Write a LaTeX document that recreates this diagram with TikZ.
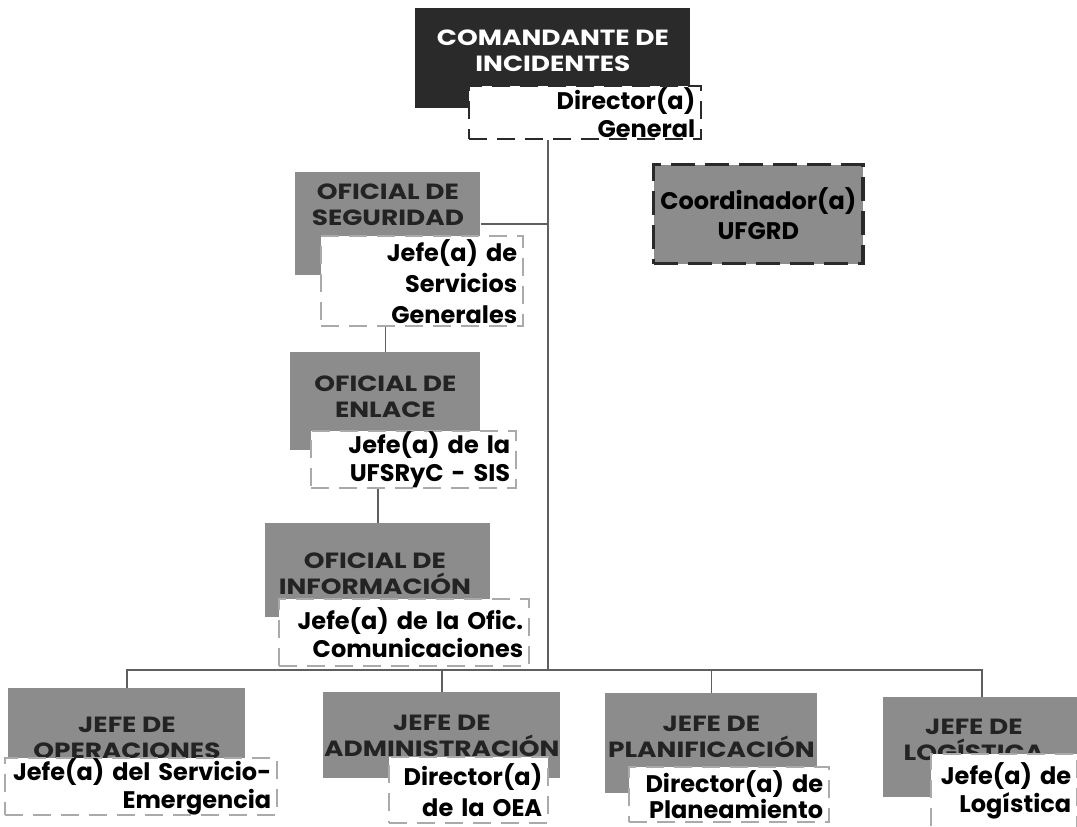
\documentclass[tikz,border=0pt]{standalone}
\usepackage{fontspec}
\setmainfont{Poppins}
\newfontfamily\titlefont[FakeStretch=1.2]{Poppins}
\usetikzlibrary{positioning, calc}

\definecolor{boxgray}{RGB}{140,140,140}
\definecolor{boxdark}{RGB}{42,42,42}
\definecolor{titletext}{RGB}{35,35,35}
\definecolor{linegray}{RGB}{95,95,95}
\definecolor{dashgray}{RGB}{170,170,170}

\begin{document}
\begin{tikzpicture}[
    x=0.5pt, y=-0.5pt,
    gbox/.style={rectangle, fill=boxgray, anchor=north west, inner sep=0pt},
    gtxt/.style={align=center, inner sep=0pt, text=titletext,
                 font=\titlefont\bfseries\fontsize{11}{13}\selectfont},
    wbox/.style={rectangle, fill=white, draw=dashgray, line width=1.2pt,
                 dash pattern=on 9pt off 5pt, anchor=north west, align=right,
                 inner xsep=3pt, inner ysep=0pt,
                 font=\bfseries\fontsize{12}{14}\selectfont},
    conn/.style={draw=linegray, line width=0.7pt}
  ]

  \path[use as bounding box, fill=white] (0,0) rectangle (1077,826);

  % top
  \node[gbox, fill=boxdark, minimum width=137.5pt, minimum height=50pt] (cmd) at (415,8) {};
  \node[gtxt, text=white] (cmdT) at ($(cmd.north)+(0,43)$) {COMANDANTE DE\\INCIDENTES};
  \node[wbox, draw=boxdark, text width=110pt, minimum height=26.5pt] (cmdW) at (468,85) {Director(a)\\General};

  \node[rectangle, fill=boxgray, draw=boxdark, line width=1.6pt, dash pattern=on 12pt off 5pt,
        anchor=north west, minimum width=104pt, minimum height=49.5pt, align=center,
        font=\bfseries\fontsize{12}{15}\selectfont] (ufg) at (652,163) {Coordinador(a)\\UFGRD};

  % officials
  \node[gbox, minimum width=92.5pt, minimum height=51.5pt] (seg) at (295,172) {};
  \node[gtxt] (segT) at ($(seg.north)+(0,33)$) {OFICIAL DE\\SEGURIDAD};
  \node[wbox, text width=95pt, minimum height=45pt, font=\bfseries\fontsize{12}{15.5}\selectfont] (segW) at (320,235) {Jefe(a) de\\Servicios\\Generales};

  \node[gbox, minimum width=95pt, minimum height=49pt] (enl) at (290,352) {};
  \node[gtxt] (enlT) at ($(enl.north)+(0,45)$) {OFICIAL DE\\ENLACE};
  \node[wbox, text width=96.5pt, minimum height=28.5pt] (enlW) at (310,430) {Jefe(a) de la\\UFSRyC - SIS};

  \node[gbox, minimum width=112.5pt, minimum height=47pt] (inf) at (265,523) {};
  \node[gtxt] (infT) at ($(inf.north)+(-3,51)$) {OFICIAL DE\\INFORMACIÓN};
  \node[wbox, text width=119pt, minimum height=33.5pt] (infW) at (278,598) {Jefe(a) de la Ofic.\\Comunicaciones};

  % section chiefs
  \node[gbox, minimum width=118.5pt, minimum height=38.5pt] (ope) at (8,688) {};
  \node[gtxt] (opeT) at ($(ope.north)+(0,50)$) {JEFE DE\\OPERACIONES};
  \node[wbox, text width=130pt, minimum height=25.5pt] (opeW) at (4,757) {Jefe(a) del Servicio-\\Emergencia};

  \node[gbox, minimum width=118.5pt, minimum height=43pt] (adm) at (323,692) {};
  \node[gtxt] (admT) at ($(adm.north)+(0,44)$) {JEFE DE\\ADMINISTRACIÓN};
  \node[wbox, text width=73.5pt, minimum height=33pt, font=\bfseries\fontsize{12}{15.5}\selectfont] (admW) at (388,756) {Director(a)\\de la OEA};

  \node[gbox, minimum width=106pt, minimum height=50pt] (pla) at (605,693) {};
  \node[gtxt] (plaT) at ($(pla.north)+(0,44)$) {JEFE DE\\PLANIFICACIÓN};
  \node[wbox, text width=94pt, minimum height=27.5pt, font=\bfseries\fontsize{12}{13}\selectfont] (plaW) at (628,766) {Director(a) de\\Planeamiento};

  \node[gbox, minimum width=98.5pt, minimum height=50pt] (log) at (883,697) {};
  \node[gtxt] (logT) at ($(log.north)+(-8,43)$) {JEFE DE\\LOGÍSTICA};
  \node[wbox, text width=67pt, minimum height=37pt] (logW) at (930,753) {Jefe(a) de\\Logística};

  % connectors
  \coordinate (spine) at (548,670);
  \draw[conn] (spine |- cmdW.south) -- (spine);
  \draw[conn] (seg.east) -- (seg.east -| spine);
  \draw[conn] (enl.north |- segW.south) -- (enl.north);
  \draw[conn] (inf.north |- enlW.south) -- (inf.north);
  \draw[conn] (ope.north) |- (log.north |- spine) -- (log.north);
  \draw[conn] (adm.north |- spine) -- (adm.north);
  \draw[conn] (pla.north |- spine) -- (pla.north);

\end{tikzpicture}
\end{document}
